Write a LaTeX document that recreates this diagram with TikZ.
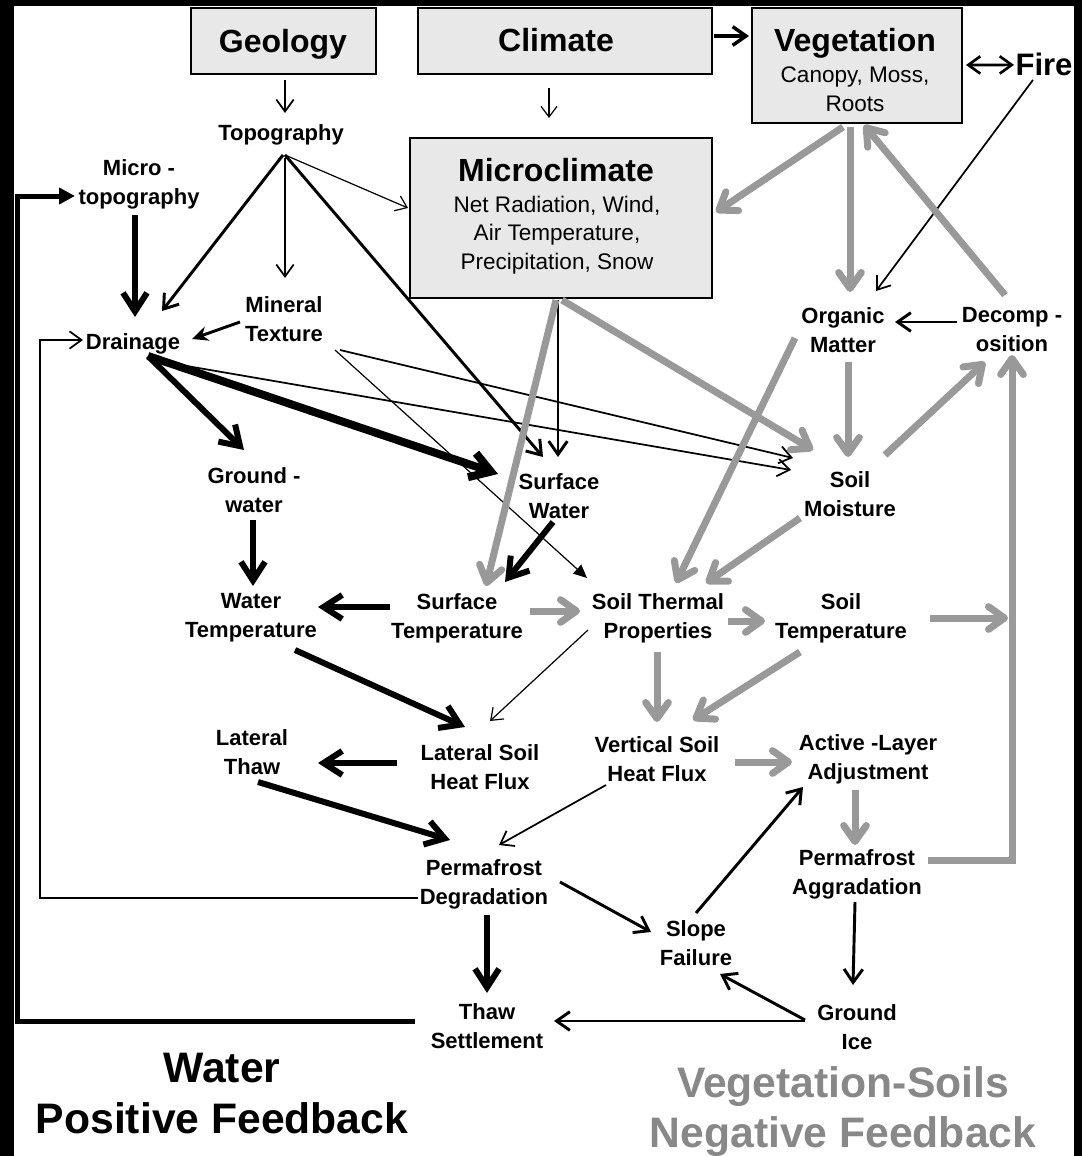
\documentclass[tikz,border=0pt]{standalone}
\usepackage{fontspec}
\setmainfont{Liberation Sans}
\usetikzlibrary{arrows.meta}
\definecolor{fbgray}{RGB}{153,153,153}
\definecolor{ttlgray}{RGB}{136,136,136}
\definecolor{boxfill}{RGB}{232,232,232}
% line struts that keep every label block at a fixed height
\newcommand\lblstrut{\rule[-3.5pt]{0pt}{21.7pt}}
\newcommand\lastlinestrut{\rule[-0.5pt]{0pt}{21.7pt}}
\newcommand\substrut{\rule[-2.7pt]{0pt}{21.4pt}}
\newcommand\bigstrut{\rule[-8.8pt]{0pt}{38pt}}
\tikzset{
  lblone/.style={font=\bfseries\fontsize{16.5}{21.75}\selectfont, align=center, inner sep=0pt,
    execute at begin node=\lblstrut, execute at end node=\lblstrut},
  lbl/.style={font=\bfseries\fontsize{16.5}{21.75}\selectfont, align=center, inner sep=0pt,
    execute at end node=\lastlinestrut},
  ttl/.style={font=\bfseries\fontsize{24}{28}\selectfont, inner sep=0pt, anchor=base},
  sub/.style={font=\fontsize{16.9}{21.4}\selectfont, align=center, inner sep=0pt,
    execute at begin node=\substrut, execute at end node=\substrut},
  big/.style={font=\bfseries\fontsize{32}{38}\selectfont, align=center, inner sep=0pt,
    execute at begin node=\bigstrut, execute at end node=\bigstrut},
  box/.style={draw=black, line width=1.6pt, fill=boxfill, inner sep=0pt},
  lnhair/.style={draw=black, line width=0.9pt, -{Straight Barb[length=8pt,width=12pt]}},
  lnthin/.style={draw=black, line width=1.3pt, -{Straight Barb[length=9pt,width=13pt]}},
  lnmed/.style={draw=black, line width=2.2pt, -{Straight Barb[length=10pt,width=14pt]}},
  lnthick/.style={draw=black, line width=4.5pt, -{Straight Barb[length=14pt,width=18pt]}},
  lnheavy/.style={draw=black, line width=6pt, -{Straight Barb[length=15pt,width=19pt]}},
  lnloop/.style={draw=black, line width=3.75pt, -{Triangle[length=12pt,width=12pt]}},
  lngray/.style={draw=fbgray, line width=5.25pt, -{Straight Barb[round,length=12pt,width=17pt]}},
}
\begin{document}
\begin{tikzpicture}[x=0.75pt,y=-0.75pt]
\useasboundingbox (0,0) rectangle (1082,1156);
\fill[black] (0,0) rectangle (1082,1156);
\fill[white] (14,6) rectangle (1074,1156);

% shaded boxes
\node[box, minimum width=138.75pt, minimum height=49.5pt] (geo) at (283.5,41) {};
\node[box, minimum width=220.5pt, minimum height=49.5pt] (clim) at (565,41) {};
\node[box, minimum width=157.5pt, minimum height=86.25pt] (veg) at (857,65.5) {};
\node[box, minimum width=226.5pt, minimum height=120pt] (micro) at (561,218) {};

\node[ttl] (geot) at (283,53) {Geology};
\node[ttl] (climt) at (556,51.5) {Climate};
\node[ttl] (vegt) at (855,51.5) {Vegetation};
\node[sub] (vegs) at (855,91) {Canopy, Moss,\\Roots};
\node[ttl] (microt) at (556,181.5) {Microclimate};
\node[sub] (micros) at (557,235) {Net Radiation, Wind,\\Air Temperature,\\Precipitation, Snow};
\node[ttl, font=\bfseries\fontsize{23.3}{28}\selectfont] (fire) at (1044,75) {Fire};

% process labels
\node[lblone] (topo) at (281,131) {Topography};
\node[lbl] (microtopo) at (139,184) {Micro -\\topography};
\node[lblone] (drain) at (133,340) {Drainage};
\node[lbl] (mintex) at (284,319) {Mineral\\Texture};
\node[lbl] (organic) at (843,330) {Organic\\Matter};
\node[lbl] (decomp) at (1012,330) {Decomp -\\osition};
\node[lbl] (gw) at (254,490) {Ground -\\water};
\node[lbl] (sw) at (559,496) {Surface\\Water};
\node[lbl] (sm) at (850,494) {Soil\\Moisture};
\node[lbl] (wt) at (251,618) {Water\\Temperature};
\node[lbl] (st) at (457,618) {Surface\\Temperature};
\node[lbl] (stp) at (658,618) {Soil Thermal\\Properties};
\node[lbl] (stemp) at (841,618) {Soil\\Temperature};
\node[lbl] (lt) at (252,752) {Lateral\\Thaw};
\node[lbl] (lshf) at (480,767) {Lateral Soil\\Heat Flux};
\node[lbl] (vshf) at (657,759) {Vertical Soil\\Heat Flux};
\node[lbl] (ala) at (868,759) {Active -Layer\\Adjustment};
\node[lbl] (pd) at (484,884) {Permafrost\\Degradation};
\node[lbl] (pa) at (857,874) {Permafrost\\Aggradation};
\node[lbl] (sf) at (696,943) {Slope\\Failure};
\node[lbl] (ts) at (487,1026) {Thaw\\Settlement};
\node[lbl] (gi) at (857,1027) {Ground\\Ice};

\node[big] (wpf) at (222,1099) {Water\\Positive Feedback};
\node[big, text=ttlgray] (vsnf) at (843,1113) {Vegetation-Soils\\Negative Feedback};

% corner points of the feedback loops
\coordinate (fbl) at (17,196);
\coordinate (fbd) at (40,340);
\coordinate (fbjoin) at (1008,618);

% black links
\draw[lnthin] ([shift={(1.5,39)}]geo.center) -- ([shift={(4,-18)}]topo.center);
\draw[lnhair] ([shift={(-16,47)}]clim.center) -- ([shift={(-12,-100)}]micro.center);
\draw[lnmed, line width=2.6pt] ([shift={(149,-5)}]clim.center) -- ([shift={(-108,-29.5)}]veg.center);
\draw[draw=black, line width=2pt, {Straight Barb[length=9pt,width=13pt]}-{Straight Barb[length=9pt,width=13pt]}]
  ([shift={(109,-0.5)}]veg.center) -- ([shift={(-30,1)}]fire.center);
\draw[lnthin] ([shift={(-11,16)}]fire.center) -- ([shift={(33,-39)}]organic.center);
\draw[lnhair] ([shift={(4,24)}]topo.center) -- ([shift={(-153,-10)}]micro.center);
\draw[lnmed] ([shift={(2,24)}]topo.center) -- ([shift={(29,-29)}]drain.center);
\draw[lnthin] ([shift={(4,27)}]topo.center) -- ([shift={(1,-41)}]mintex.center);
\draw[lnmed] ([shift={(4,24)}]topo.center) -- ([shift={(-16,-39)}]sw.center);
\draw[lnthick] ([shift={(-4,31)}]microtopo.center) -- ([shift={(2,-23)}]drain.center);
\draw[lnloop] ([shift={(-72,-5)}]ts.center) -| (fbl) -- ([shift={(-64,12)}]microtopo.center);
\draw[lnthin] ([shift={(-66,14)}]pd.center) -| (fbd) -- ([shift={(-50,0)}]drain.center);
\draw[lnmed, -{Stealth[length=12pt,width=11pt]}] ([shift={(-44,3)}]mintex.center) -- ([shift={(59,-1)}]drain.center);
\draw[lnthick] ([shift={(15,16)}]drain.center) -- ([shift={(-10,-40)}]gw.center);
\draw[lnheavy] ([shift={(15,16)}]drain.center) -- ([shift={(-61,-22)}]sw.center);
\draw[lnthin] ([shift={(19,20)}]drain.center) -- ([shift={(-59,-24)}]sm.center);
\draw[lnthin] ([shift={(56,31)}]mintex.center) -- ([shift={(-57,-36)}]sm.center);
\draw[lnhair, -{Triangle[length=10pt,width=9pt]}] ([shift={(51,31)}]mintex.center) -- ([shift={(-71,-40)}]stp.center);
\draw[lnmed] ([shift={(-3,82)}]micro.center) -- ([shift={(-1,-39)}]sw.center);
\draw[lnthick] ([shift={(-6,26)}]sw.center) -- ([shift={(48,-36)}]st.center);
\draw[lnthick] ([shift={(-1,30)}]gw.center) -- ([shift={(2,-32)}]wt.center);
\draw[lnthick] ([shift={(-67,-11)}]st.center) -- ([shift={(67,-11)}]wt.center);
\draw[lnhair] ([shift={(-70,12)}]stp.center) -- ([shift={(10,-46)}]lshf.center);
\draw[lnthick] ([shift={(44,32)}]wt.center) -- ([shift={(-15,-40)}]lshf.center);
\draw[lnthick] ([shift={(-83,-4)}]lshf.center) -- ([shift={(66,11)}]lt.center);
\draw[lnthick] ([shift={(6,30)}]lt.center) -- ([shift={(-34,-44)}]pd.center);
\draw[lnthin] ([shift={(-51,26)}]vshf.center) -- ([shift={(15,-39)}]pd.center);
\draw[lnmed] ([shift={(76,-2)}]pd.center) -- ([shift={(-45,-11)}]sf.center);
\draw[lnmed] ([shift={(0,-30)}]sf.center) -- ([shift={(-65,28)}]ala.center);
\draw[lnmed] ([shift={(-2,28)}]pa.center) -- ([shift={(-4,-42)}]gi.center);
\draw[lnmed] ([shift={(-52,-7)}]gi.center) -- ([shift={(24,31)}]sf.center);
\draw[lnmed] ([shift={(-52,-6)}]gi.center) -- ([shift={(67,-5)}]ts.center);
\draw[lnthick] ([shift={(3,31)}]pd.center) -- ([shift={(0,-33)}]ts.center);
\draw[lnmed] ([shift={(-55,-8)}]decomp.center) -- ([shift={(52,-8)}]organic.center);

% grey links
\draw[lngray] ([shift={(-5,82)}]micro.center) -- ([shift={(29,-32)}]st.center);
\draw[lngray] ([shift={(1,82)}]micro.center) -- ([shift={(-37,-44)}]sm.center);
\draw[lngray] ([shift={(-14,61.5)}]veg.center) -- ([shift={(155,-6)}]micro.center);
\draw[lngray] ([shift={(-7,61.5)}]veg.center) -- ([shift={(7,-38)}]organic.center);
\draw[lngray] ([shift={(-7,-35)}]decomp.center) -- ([shift={(7,59.5)}]veg.center);
\draw[lngray] ([shift={(5,32)}]organic.center) -- ([shift={(-2,-37)}]sm.center);
\draw[lngray] ([shift={(-48,8)}]organic.center) -- ([shift={(18,-35)}]stp.center);
\draw[lngray] ([shift={(35,-39)}]sm.center) -- ([shift={(-27,32)}]decomp.center);
\draw[lngray] ([shift={(-50,24)}]sm.center) -- ([shift={(48,-35)}]stp.center);
\draw[lngray] ([shift={(73,-7)}]st.center) -- ([shift={(-78,-7)}]stp.center);
\draw[lngray] ([shift={(70,3)}]stp.center) -- ([shift={(-76,3)}]stemp.center);
\draw[lngray] ([shift={(89,0)}]stemp.center) -- (fbjoin);
\draw[lngray] ([shift={(71,-14)}]pa.center) -| ([shift={(0,25)}]decomp.center);
\draw[lngray] ([shift={(-1,34)}]stp.center) -- ([shift={(0,-37)}]vshf.center);
\draw[lngray] ([shift={(-41,34)}]stemp.center) -- ([shift={(36,-39)}]vshf.center);
\draw[lngray] ([shift={(78,3)}]vshf.center) -- ([shift={(-76,3)}]ala.center);
\draw[lngray] ([shift={(-13,31)}]ala.center) -- ([shift={(-2,-29)}]pa.center);
\end{tikzpicture}
\end{document}
